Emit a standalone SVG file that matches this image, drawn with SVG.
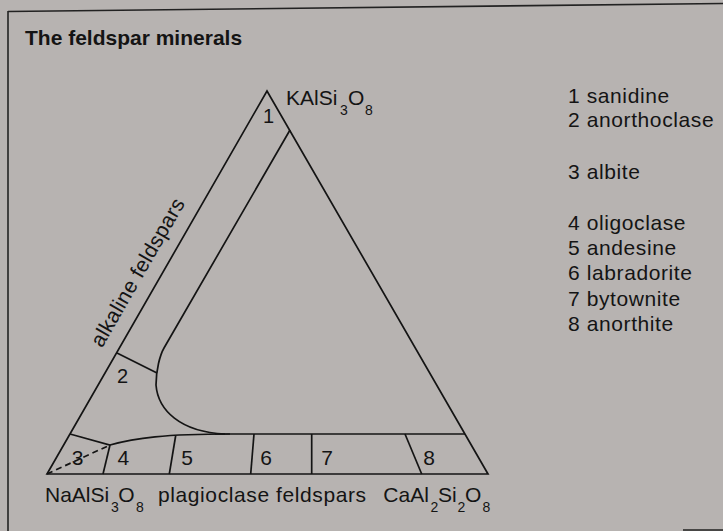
<svg xmlns="http://www.w3.org/2000/svg" width="723" height="531" viewBox="0 0 723 531">
<style>
text{font-family:"Liberation Sans",Arial,Helvetica,sans-serif;fill:#141414}
.t{font-size:21px;letter-spacing:0.6px}
.f{font-size:21px}
.n{font-size:20px;text-anchor:middle}
.nb{font-size:21px;text-anchor:middle}
.sub{font-size:14px;letter-spacing:0}
.ln{fill:none;stroke:#141414;stroke-width:1.7;stroke-linejoin:miter}
.fr{stroke:#222;stroke-width:1.6;fill:none}
.dash{stroke-dasharray:6 4}
</style>
<rect width="723" height="531" fill="#b7b3b1"/>
<g id="frame">
<line class="fr" x1="8" y1="11.5" x2="723" y2="3.5"/>
<line class="fr" x1="8" y1="11" x2="8" y2="531"/>
<line class="fr" x1="683" y1="530" x2="723" y2="530" stroke-width="2"/>
</g>
<g id="title"><text x="25" y="45" font-weight="bold" font-size="21">The feldspar minerals</text></g>
<g id="triangle">
<path class="ln" d="M47,474 L267,91 L488,474 Z"/>
</g>
<g id="connectors" class="ln">
<path d="M290,130 L164,348 C160,355 156,370 156,385 C158,410 180,432 225,434"/>
<path d="M117,353 L157,373"/>
<path d="M215,434 L465,434"/>
<path d="M70,434 L110,445 C135,438 165,434 230,434"/>
<path class="dash" d="M47,474 L110,445"/>
<path d="M110,445 L103,474"/>
<path d="M175.7,435.5 L169.3,474"/>
<path d="M254,434 L250.7,474"/>
<path d="M311.7,434 L311.7,474"/>
<path d="M405,434 L421.7,474"/>
</g>
<g id="labels">
<text class="n" x="268.5" y="123">1</text>
<text class="n" x="122.5" y="383">2</text>
<text class="nb" x="77.5" y="465">3</text>
<text class="nb" x="123.3" y="465">4</text>
<text class="nb" x="187" y="465">5</text>
<text class="nb" x="266" y="464.5">6</text>
<text class="nb" x="327" y="464.5">7</text>
<text class="nb" x="429" y="464.5">8</text>
</g>
<g id="axis-labels">
<text class="f"><tspan x="286" y="105">KAlSi</tspan><tspan class="sub" x="340" y="114.5">3</tspan><tspan x="348" y="105">O</tspan><tspan class="sub" x="365" y="114.5">8</tspan></text>
<text class="f"><tspan x="45" y="502">NaAlSi</tspan><tspan class="sub" x="111" y="511.5">3</tspan><tspan x="118.3" y="502">O</tspan><tspan class="sub" x="136" y="511.5">8</tspan></text>
<text class="t" x="158" y="502">plagioclase feldspars</text>
<text class="f"><tspan x="383.3" y="502">CaAl</tspan><tspan class="sub" x="430.5" y="511.5">2</tspan><tspan x="438" y="502">Si</tspan><tspan class="sub" x="457.5" y="511.5">2</tspan><tspan x="465" y="502">O</tspan><tspan class="sub" x="482.5" y="511.5">8</tspan></text>
<text class="t" style="letter-spacing:0.3px" transform="translate(102,348.5) rotate(-60.1)">alkaline feldspars</text>
</g>
<g id="legend">
<text class="t" x="568" y="103">1 sanidine</text>
<text class="t" x="568" y="127">2 anorthoclase</text>
<text class="t" x="568" y="179">3 albite</text>
<text class="t" x="568" y="229.5">4 oligoclase</text>
<text class="t" x="568" y="255">5 andesine</text>
<text class="t" x="568" y="280">6 labradorite</text>
<text class="t" x="568" y="305.5">7 bytownite</text>
<text class="t" x="568" y="331">8 anorthite</text>
</g>
</svg>
